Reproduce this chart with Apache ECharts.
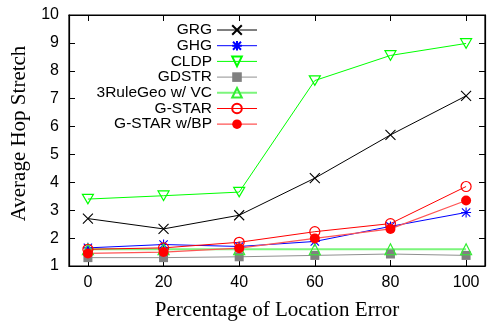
<!DOCTYPE html>
<html>
<head>
<meta charset="utf-8">
<script src="https://cdn.jsdelivr.net/npm/echarts@6/dist/echarts.min.js"></script>
<style>
  html, body { margin: 0; padding: 0; background: #fff; }
  #chart { width: 491px; height: 326px; }
</style>
</head>
<body>
<div id="chart"></div>
<script>
// Location error levels (percent)
const errorLevels = [0, 20, 40, 60, 80, 100];
const xTicks = [0, 20, 40, 60, 80, 100];

// Average hop stretch per protocol
const grg      = [2.70, 2.33, 2.82, 4.15, 5.70, 7.10];
const ghg      = [1.65, 1.77, 1.70, 1.88, 2.42, 2.92];
const cldp     = [3.40, 3.52, 3.65, 7.65, 8.55, 8.98];
const gdstr    = [1.30, 1.30, 1.33, 1.38, 1.43, 1.38];
const rule3Geo = [1.60, 1.60, 1.60, 1.60, 1.60, 1.60];
const gstar    = [1.60, 1.65, 1.85, 2.23, 2.52, 3.85];
const gstarBp  = [1.45, 1.50, 1.64, 1.99, 2.33, 3.35];

const pairs = arr => errorLevels.map((x, i) => [x, arr[i]]);

const SYM_X = 'path://M0,0L10,10M10,0L0,10';
const SYM_STAR = 'path://M0,0L10,10M10,0L0,10M5,-1L5,11M-1,5L11,5';
const SYM_TRI_DOWN = 'path://M0,0L10,0L5,8.66Z';

function lineSeries(name, data, opts) {
  return Object.assign({
    name: name,
    type: 'line',
    data: pairs(data),
    xAxisIndex: 0,
    yAxisIndex: 0,
    animation: false,
    symbolKeepAspect: true,
    z: 3
  }, opts);
}

const series = [
  lineSeries('GRG', grg, {
    symbol: SYM_X, symbolSize: 10,
    lineStyle: { color: '#000000', width: 1 },
    itemStyle: { color: 'rgba(0,0,0,0)', borderColor: '#000000', borderWidth: 1.1 }
  }),
  lineSeries('GHG', ghg, {
    symbol: SYM_STAR, symbolSize: 10,
    lineStyle: { color: '#0000ff', width: 1 },
    itemStyle: { color: 'rgba(0,0,0,0)', borderColor: '#0000ff', borderWidth: 1.1 }
  }),
  lineSeries('CLDP', cldp, {
    symbol: SYM_TRI_DOWN, symbolSize: 11,
    lineStyle: { color: '#00ff00', width: 1 },
    itemStyle: { color: 'rgba(0,0,0,0)', borderColor: '#00ff00', borderWidth: 1.2 }
  }),
  lineSeries('GDSTR', gdstr, {
    symbol: 'rect', symbolSize: 9,
    lineStyle: { color: '#909090', width: 1 },
    itemStyle: { color: '#808080' }
  }),
  lineSeries('3RuleGeo w/ VC', rule3Geo, {
    symbol: 'triangle', symbolSize: 11,
    lineStyle: { color: '#7cf57c', width: 2 },
    itemStyle: { color: 'rgba(0,0,0,0)', borderColor: '#33ee33', borderWidth: 1.2 }
  }),
  lineSeries('G-STAR', gstar, {
    symbol: 'circle', symbolSize: 10,
    lineStyle: { color: '#ff0000', width: 1 },
    itemStyle: { color: 'rgba(0,0,0,0)', borderColor: '#ff0000', borderWidth: 1.2 }
  }),
  lineSeries('G-STAR w/BP', gstarBp, {
    symbol: 'circle', symbolSize: 10,
    lineStyle: { color: '#ff5555', width: 1.2 },
    itemStyle: { color: '#ff0000' }
  })
];

const legendItems = series.map(s => ({
  name: s.name,
  lineStyle: { width: s.lineStyle.width, color: s.lineStyle.color }
}));

const tickStyle = { show: true, inside: true, length: 6, lineStyle: { color: '#000', width: 1 } };
const axisLine = { show: true, onZero: false, lineStyle: { color: '#000', width: 1.2 } };

const option = {
  backgroundColor: '#ffffff',
  animation: false,
  grid: {
    left: 69, right: 6, top: 15, bottom: 57,
    show: true, borderColor: '#000', borderWidth: 1.2, backgroundColor: 'transparent'
  },
  legend: {
    orient: 'vertical',
    align: 'right',
    right: 233,
    top: 22,
    itemWidth: 40,
    itemHeight: 12,
    itemGap: -0.3,
    padding: 0,
    textStyle: { fontFamily: 'Liberation Sans', fontSize: 15.5, color: '#000' },
    data: legendItems
  },
  xAxis: [
    {
      type: 'value', position: 'bottom', min: -5, max: 105,
      name: 'Percentage of Location Error', nameLocation: 'middle', nameGap: 34,
      nameTextStyle: { fontFamily: 'Liberation Serif', fontSize: 21, color: '#000' },
      axisLine: axisLine,
      axisTick: Object.assign({ customValues: xTicks }, tickStyle),
      axisLabel: { customValues: xTicks, margin: 9, fontFamily: 'Liberation Sans', fontSize: 16, color: '#000' },
      splitLine: { show: false }
    },
    {
      type: 'value', position: 'top', min: -5, max: 105,
      axisLine: axisLine,
      axisTick: Object.assign({ customValues: xTicks }, tickStyle),
      axisLabel: { show: false },
      splitLine: { show: false }
    }
  ],
  yAxis: [
    {
      type: 'value', position: 'left', min: 1, max: 10, interval: 1,
      name: 'Average Hop Stretch', nameLocation: 'middle', nameGap: 36,
      nameTextStyle: { fontFamily: 'Liberation Serif', fontSize: 21, color: '#000', padding: [0, 0, 0, 14] },
      axisLine: axisLine,
      axisTick: tickStyle,
      axisLabel: { margin: 10, fontFamily: 'Liberation Sans', fontSize: 16, color: '#000' },
      splitLine: { show: false }
    },
    {
      type: 'value', position: 'right', min: 1, max: 10, interval: 1,
      axisLine: axisLine,
      axisTick: tickStyle,
      axisLabel: { show: false },
      splitLine: { show: false }
    }
  ],
  series: series
};

const chart = echarts.init(document.getElementById('chart'), null, { renderer: 'canvas' });
chart.setOption(option);
</script>
</body>
</html>
